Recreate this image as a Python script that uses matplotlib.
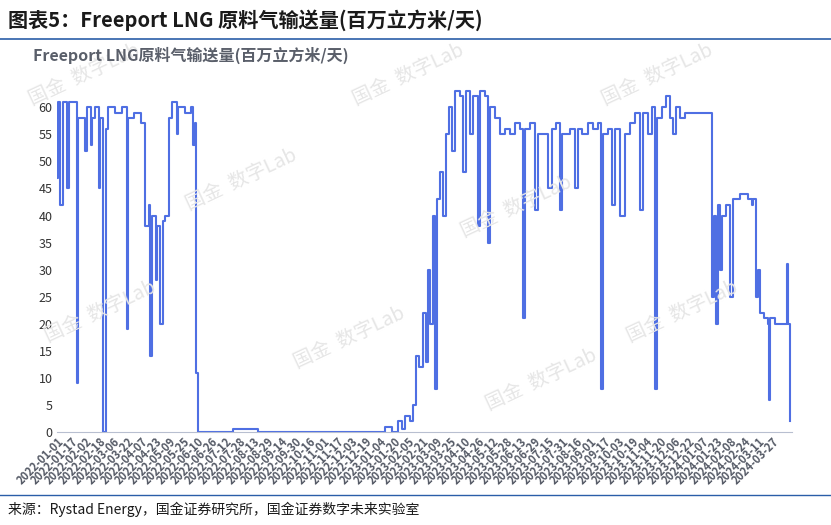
import matplotlib
matplotlib.use("Agg")
import matplotlib.pyplot as plt
import pandas as pd
from matplotlib.lines import Line2D

plt.rcParams['font.family'] = ['Noto Sans CJK SC', 'DejaVu Sans']

start_date = "2022-01-01"
days_since_start = [0,1,3,6,11,13,22,23,32,34,38,40,43,47,49,52,55,58,66,74,79,81,87,95,100,104,106,108,112,114,117,120,123,127,131,136,138,146,152,155,157,158,160,200,229,374,382,389,393,397,402,406,409,413,417,421,423,425,428,431,433,437,440,443,447,450,454,459,463,466,471,474,480,482,488,491,494,499,505,511,516,522,528,531,534,539,545,548,556,560,564,569,573,576,585,591,594,599,605,611,617,620,622,628,633,636,642,648,653,659,665,668,674,678,682,684,690,694,699,702,706,710,716,727,744,747,749,751,754,756,758,763,767,771,779,788,792,794,797,799,801,806,811,812,813,819,824,830,832,833,836]
flow = [47,61,42,61,45,61,9,58,52,60,53,58,60,45,58,0,56,60,59,60,19,58,59,57,38,42,14,40,28,38,20,39,40,58,61,55,60,59,60,53,57,11,0,0.6,0,1,0,2,0.5,3,2,5,14,12,22,13,30,20,40,8,43,48,40,55,60,52,63,62,48,63,55,62,38,63,62,35,60,58,55,56,55,57,56,21,56,57,41,55,55,45,56,57,41,55,56,45,56,55,57,56,57,8,55,56,42,56,40,55,57,59,41,59,55,60,8,58,60,62,58,55,60,58,59,59,59,25,40,20,42,30,40,42,25,43,44,43,42,43,25,30,22,21,20,6,21,20,20,20,31,20,2]
tick_labels_start = "2022-01-01"
tick_step_days = 16
tick_count = 52

dates = pd.to_datetime(start_date) + pd.to_timedelta(days_since_start, unit="D")
ticks = pd.date_range(tick_labels_start, periods=tick_count, freq=f"{tick_step_days}D")

fig = plt.figure(figsize=(8.31, 5.25), dpi=100)
ax = fig.add_axes([0.069, 0.177, 0.884, 0.66])
ax.plot(dates, flow, drawstyle="steps-post", color="#4f6fe3", lw=1.5)
ax.set_ylim(0, 64)
ax.set_xlim(pd.Timestamp("2022-01-01"), pd.Timestamp("2022-01-01") + pd.Timedelta(days=838))
ax.set_yticks(range(0, 61, 5))
ax.set_xticks(ticks)
ax.set_xticklabels([t.strftime("%Y-%m-%d") for t in ticks], rotation=45, ha="right",
                   rotation_mode="anchor", fontsize=8, color="#555a66", fontweight="bold")
ax.tick_params(axis="y", length=0, labelsize=9, labelcolor="#333333")
ax.tick_params(axis="x", length=0, pad=2)
for s in ["top", "right", "left"]:
    ax.spines[s].set_visible(False)
ax.spines["bottom"].set_color("#b8bfd0")

fig.text(0.01, 0.962, "图表5：Freeport LNG 原料气输送量(百万立方米/天)", fontsize=14.5,
         style="italic", fontweight="bold", color="#1a1a1a", va="center")
fig.add_artist(Line2D([0.0, 1.0], [0.925, 0.925], color="#2a5ea8", lw=1.2))
fig.text(0.04, 0.895, "Freeport LNG原料气输送量(百万立方米/天)", fontsize=11.5,
         fontweight="bold", color="#5a5f6a", va="center")
fig.add_artist(Line2D([0.0, 1.0], [0.058, 0.058], color="#2a5ea8", lw=1.0))
fig.text(0.01, 0.03, "来源：Rystad Energy，国金证券研究所，国金证券数字未来实验室", fontsize=10,
         color="#1a1a1a", va="center")

for (x, y) in [(0.03, 0.8), (0.22, 0.6), (0.42, 0.8), (0.05, 0.35), (0.35, 0.3),
               (0.72, 0.8), (0.55, 0.55), (0.75, 0.35), (0.58, 0.22)]:
    fig.text(x, y, "国金  数字Lab", fontsize=14, color="#e6e6e6", rotation=25, zorder=0)

fig.savefig("out.png", dpi=100)
